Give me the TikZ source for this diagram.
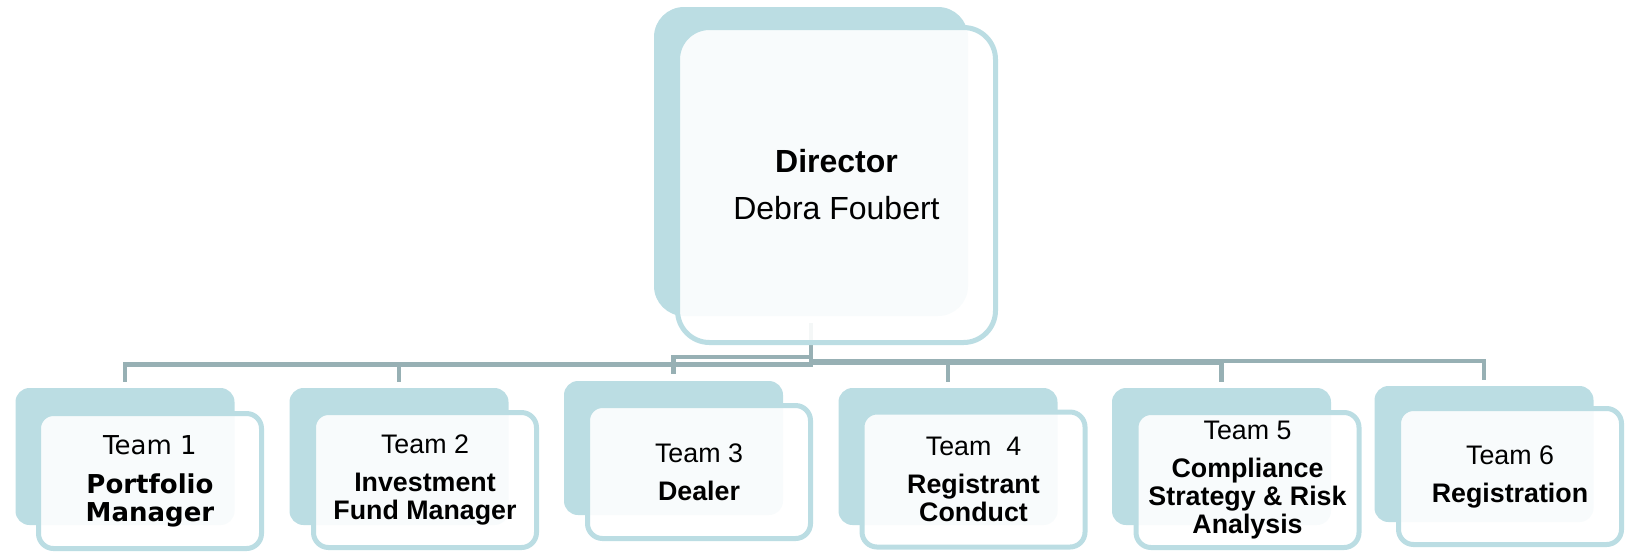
\documentclass[tikz,border=0pt]{standalone}
\usepackage{fontspec}
\setmainfont{Liberation Sans}
\newfontfamily\verdanafont{DejaVu Sans}
\definecolor{boxblue}{HTML}{BBDDE3}
\definecolor{conncolor}{HTML}{97B0B4}
\begin{document}
\begin{tikzpicture}[x=0.5pt,y=-0.5pt,
  backbox/.style={rectangle, rounded corners=7pt, fill=boxblue, draw=none, inner sep=0pt, outer sep=0pt, minimum width=109.5pt, minimum height=68.5pt},
  frontbox/.style={rectangle, rounded corners=7.5pt, draw=boxblue, line width=2.5pt, fill=white, fill opacity=0.9, text opacity=1, draw opacity=1, inner sep=0pt, outer sep=0pt, minimum width=111.5pt, minimum height=67.5pt, align=center, font=\fontsize{13.4}{14}\selectfont},
  verdana/.style={font=\verdanafont\fontsize{13}{14}\selectfont},
  conn/.style={draw=conncolor, line width=2.4pt}]
\useasboundingbox (0,0) rectangle (1626,553);

% back boxes
\node[backbox, rounded corners=15pt, minimum width=157pt, minimum height=154.5pt] (dirB) at (811,161.5) {};
\node[backbox] (t1B) at (125,456.5) {};
\node[backbox] (t2B) at (399,456.5) {};
\node[backbox, minimum height=67pt] (t3B) at (673.5,448) {};
\node[backbox] (t4B) at (948,456.5) {};
\node[backbox] (t5B) at (1221.5,456.5) {};
\node[backbox, minimum height=68pt] (t6B) at (1484,454) {};

% connector levels
\coordinate (hA) at (0,364.5);
\coordinate (hB) at (0,357);
\coordinate (hC) at (0,362.5);
\coordinate (hD) at (0,361);

\draw[conn] ([yshift=-3.5pt]dirB.south) -- (dirB.south |- hA) -- (t1B.north |- hA) -- ([yshift=3pt]t1B.north);
\draw[conn] ([yshift=-3.5pt]dirB.south) -- (dirB.south |- hA) -- (t2B.north |- hA) -- ([yshift=3pt]t2B.north);
\draw[conn] ([yshift=-3.5pt]dirB.south) -- (dirB.south |- hB) -- (t3B.north |- hB) -- ([yshift=3.5pt]t3B.north);
\draw[conn] ([yshift=-3.5pt]dirB.south) -- (dirB.south |- hC) -- (t4B.north |- hC) -- ([yshift=3pt]t4B.north);
\draw[conn] ([yshift=-3.5pt]dirB.south) -- (dirB.south |- hC) -- (t5B.north |- hC) -- ([yshift=3pt]t5B.north);
\draw[conn] ([yshift=-3.5pt]dirB.south) -- (dirB.south |- hD) -- (t6B.north |- hD) -- ([yshift=3pt]t6B.north);

% front boxes
\node[frontbox, rounded corners=16pt, minimum width=159pt, minimum height=157.5pt, font=\fontsize{16}{17}\selectfont] (dirF) at (836.5,185) {\textbf{Director}\\[6.5pt]Debra Foubert};
\node[frontbox, verdana] (t1F) at (150,481) {Team 1\\[5.5pt]\textbf{Portfolio}\\\textbf{Manager}};
\node[frontbox] (t2F) at (425,480) {Team 2\\[5pt]\textbf{Investment}\\\textbf{Fund Manager}};
\node[frontbox, minimum height=66.5pt] (t3F) at (699,472) {Team 3\\[5pt]\textbf{Dealer}};
\node[frontbox] (t4F) at (973.5,479.5) {Team\ \ 4\\[5pt]\textbf{Registrant}\\\textbf{Conduct}};
\node[frontbox] (t5F) at (1247.5,480) {Team 5\\[5pt]\textbf{Compliance}\\\textbf{Strategy \& Risk}\\\textbf{Analysis}};
\node[frontbox, minimum height=68pt] (t6F) at (1510,476.5) {Team 6\\[5pt]\textbf{Registration}};
\end{tikzpicture}
\end{document}
